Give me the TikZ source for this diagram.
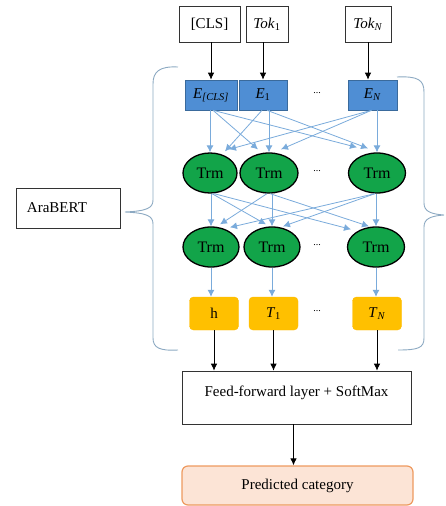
\documentclass[tikz,border=0pt]{standalone}
\usepackage{fontspec}
\setmainfont{Liberation Serif}
\usetikzlibrary{arrows.meta,calc,shapes.geometric}
\definecolor{eblue}{HTML}{4F8ED4}
\definecolor{eborder}{HTML}{3A6A9C}
\definecolor{trmgreen}{HTML}{12A449}
\definecolor{tyellow}{HTML}{FFC000}
\definecolor{lblue}{HTML}{7AABDB}
\definecolor{bracec}{HTML}{8CA9C2}
\definecolor{predfill}{HTML}{FCE4D6}
\definecolor{predborder}{HTML}{EE9A5F}
\begin{document}
\begin{tikzpicture}[x=1pt,y=-1pt,
  font=\fontsize{15}{18}\selectfont,
  tokbox/.style={draw=black!80,line width=0.6pt,fill=white,minimum height=36pt,inner sep=0pt},
  ebox/.style={draw=eborder,line width=0.6pt,fill=eblue,minimum height=30pt,inner sep=0pt},
  trm/.style={ellipse,draw=black,line width=1.3pt,fill=trmgreen,minimum height=40pt,inner sep=0pt,font=\fontsize{16}{18}\selectfont},
  ybox/.style={rounded corners=4pt,fill=tyellow,draw=tyellow!90!orange,minimum height=33pt,minimum width=49pt,inner sep=0pt},
  plainbox/.style={draw=black!80,line width=0.6pt,fill=white,inner sep=0pt},
  barrow/.style={draw=lblue,line width=0.8pt,-{Latex[length=7pt,width=7pt]}},
  karrow/.style={draw=black,line width=0.9pt,-{Latex[length=7pt,width=6.5pt]}},
  bracel/.style={draw=bracec,line width=0.9pt},
  dotlbl/.style={font=\fontsize{10}{12}\selectfont,inner sep=0pt}
]
\useasboundingbox (0,0) rectangle (446,506);

% input tokens
\node[tokbox,minimum width=61pt] (cls) at (209.5,24) {[CLS]};
\node[tokbox,minimum width=42pt] (tok1) at (267,24) {\textit{Tok}\textsubscript{1}};
\node[tokbox,minimum width=46pt] (tokn) at (368,24) {\textit{Tok}\textsubscript{\textit{N}}};

% embeddings
\node[ebox,minimum width=52pt] (e0) at (211,95) {\textit{E}\textsubscript{\textit{[CLS]}}};
\node[ebox,minimum width=48pt] (e1) at (263,95) {\textit{E}\textsubscript{1}};
\node[ebox,minimum width=49pt] (en) at (372.5,95) {\textit{E}\textsubscript{\textit{N}}};
\node[dotlbl] (d1) at (317,93) {...};

% transformer layer 1
\node[trm,minimum width=54pt] (t0) at (210,173) {Trm};
\node[trm,minimum width=58pt] (t1) at (269,173) {Trm};
\node[trm,minimum width=57pt] (t2) at (377,173) {Trm};
\node[dotlbl] (d2) at (317,171) {...};

% transformer layer 2
\node[trm,minimum width=56pt] (u0) at (211,247) {Trm};
\node[trm,minimum width=56pt] (u1) at (272,247) {Trm};
\node[trm,minimum width=57pt] (u2) at (376,247) {Trm};
\node[dotlbl] (d3) at (317,245) {...};

% outputs
\node[ybox] (y0) at (214,313.5) {h};
\node[ybox] (y1) at (273.5,313.5) {\textit{T}\textsubscript{1}};
\node[ybox] (yn) at (377,313.5) {\textit{T}\textsubscript{\textit{N}}};
\node[dotlbl] (d4) at (317,311) {...};

% feed-forward and prediction
\node[plainbox,minimum width=229pt,minimum height=53pt,text depth=13.5pt] (ff) at (296.5,397.5) {Feed-forward layer + SoftMax};
\node[draw=predborder,line width=1.2pt,fill=predfill,rounded corners=6pt,minimum width=231pt,minimum height=39pt,inner sep=0pt] (pred) at (297.5,485.5) {Predicted category};

% AraBERT label
\node[plainbox,minimum width=104pt,minimum height=40pt,text width=82pt,align=left,inner xsep=11pt] (ara) at (68,208) {AraBERT};

% token -> embedding arrows
\draw[karrow] (cls.south -| e0.north) -- (e0.north);
\draw[karrow] (tok1.south -| e1.north) -- (e1.north);
\draw[karrow] (tokn.south) -- (tokn.south |- en.north);

% embeddings -> layer 1
\draw[barrow] (e0.south -| t0.north) -- (t0.north);
\draw[barrow] ([xshift=2pt]e0.south) -- ([xshift=-11pt,yshift=3pt]t1.north);
\draw[barrow] ([xshift=2pt]e0.south) -- ([xshift=-20pt,yshift=5pt]t2.north);
\draw[barrow] ([xshift=-1pt]e1.south) -- ([xshift=15pt,yshift=1pt]t0.north);
\draw[barrow] (e1.south -| t1.north) -- (t1.north);
\draw[barrow] ([xshift=4pt]e1.south) -- ([xshift=-9pt,yshift=4pt]t2.north);
\draw[barrow] ([xshift=-1pt]en.south) -- ([xshift=19pt,yshift=3pt]t0.north);
\draw[barrow] ([xshift=-1pt]en.south) -- ([xshift=12pt,yshift=3pt]t1.north);
\draw[barrow] (en.south -| t2.north) -- (t2.north);

% layer 1 -> layer 2
\draw[barrow] (t0.south -| u0.north) -- (u0.north);
\draw[barrow] ([xshift=2pt]t0.south) -- ([xshift=-6pt,yshift=2pt]u1.north);
\draw[barrow] ([xshift=4pt]t0.south) -- ([xshift=-25pt,yshift=-3pt]u2.north);
\draw[barrow] ([xshift=-2pt]t1.south) -- ([xshift=9pt,yshift=2pt]u0.north);
\draw[barrow] (t1.south -| u1.north) -- (u1.north);
\draw[barrow] ([xshift=1pt]t1.south) -- ([xshift=-7pt,yshift=0pt]u2.north);
\draw[barrow] ([xshift=-2pt]t2.south) -- ([xshift=19pt,yshift=-1pt]u0.north);
\draw[barrow] ([xshift=-2pt]t2.south) -- ([xshift=11pt,yshift=0pt]u1.north);
\draw[barrow] (t2.south -| u2.north) -- (u2.north);

% layer 2 -> outputs
\draw[barrow] (u0.south) -- (u0.south |- y0.north);
\draw[barrow] (u1.south) -- (u1.south |- y1.north);
\draw[barrow] (u2.south) -- (u2.south |- yn.north);

% outputs -> feed-forward
\draw[karrow] (y0.south) -- (y0.south |- ff.north);
\draw[karrow] (y1.south) -- (y1.south |- ff.north);
\draw[karrow] (yn.south) -- (yn.south |- ff.north);

% feed-forward -> prediction
\draw[karrow] ([xshift=-3pt]ff.south) -- ([xshift=-4pt]pred.north);

% braces
\coordinate (ltip) at (125,212);
\draw[bracel] (178,67) .. controls (159,66) and (153,72) .. (153,84) -- (153,200)
  .. controls (153,208) and (147,211) .. (ltip)
  .. controls (147,213) and (153,216) .. (153,224) -- (153,338)
  .. controls (153,348) and (160,351) .. (178,350);
\coordinate (rtip) at (444,215);
\draw[bracel] (397,77) .. controls (418,76) and (424,80) .. (424,92) -- (424,203)
  .. controls (424,211) and (430,214) .. (rtip)
  .. controls (430,216) and (424,219) .. (424,227) -- (424,338)
  .. controls (424,348) and (418,350) .. (398,350);
\end{tikzpicture}
\end{document}
